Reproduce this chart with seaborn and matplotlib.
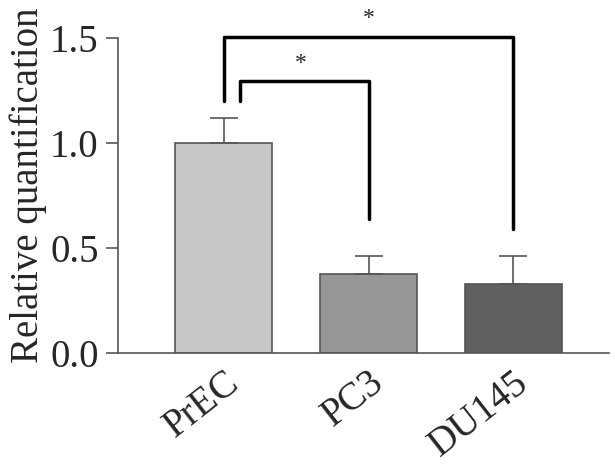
# Bar chart of relative quantification with significance brackets
import pandas as pd
import seaborn as sns
import matplotlib.pyplot as plt

groups = ['PrEC', 'PC3', 'DU145']
means = [1.0, 0.375, 0.33]
errs = [0.12, 0.087, 0.13]
colors = ['#c8c8c8', '#979797', '#606060']
yticks = [0.0, 0.5, 1.0, 1.5]

df = pd.DataFrame({'group': groups, 'value': means})

sns.set_style('ticks')
plt.rcParams['font.family'] = ['Liberation Serif', 'DejaVu Serif']

fig, ax = plt.subplots(figsize=(6.15, 4.68), dpi=100)
sns.barplot(data=df, x='group', y='value', hue='group', palette=colors,
            width=0.67, edgecolor='#555555', linewidth=1.2, errorbar=None,
            legend=False, ax=ax)

# upper error bars only
ax.errorbar(range(len(groups)), means, yerr=[[0] * len(groups), errs],
            fmt='none', ecolor='#555555', elinewidth=1.2, capsize=10, capthick=1.2)

# significance brackets
lw = 2.5
ax.plot([0.0, 0.0, 2.0, 2.0], [1.2, 1.505, 1.505, 0.59], color='black', lw=lw)
ax.plot([0.11, 0.11, 1.0, 1.0], [1.2, 1.297, 1.297, 0.64], color='black', lw=lw)
ax.text(1.0, 1.545, '*', ha='center', va='bottom', fontsize=17)
ax.text(0.53, 1.33, '*', ha='center', va='bottom', fontsize=17)

ax.set_xlim(-0.73, 2.66)
ax.set_ylim(0, 1.66)
ax.set_yticks(yticks)
ax.set_yticklabels([f'{t:.1f}' for t in yticks])
ax.set_xlabel('')
ax.set_ylabel('Relative quantification', fontsize=28)
ax.yaxis.set_label_coords(-0.145, 0.482)
ax.tick_params(axis='y', labelsize=28, length=9, width=1.2, color='#555555', pad=5)
ax.tick_params(axis='x', labelsize=28, length=0, pad=8)
plt.setp(ax.get_xticklabels(), rotation=38, ha='right', rotation_mode='anchor')
for s in ['top', 'right']:
    ax.spines[s].set_visible(False)
for s in ['left', 'bottom']:
    ax.spines[s].set_color('#555555')
    ax.spines[s].set_linewidth(1.2)
ax.spines['left'].set_bounds(0, 1.5)

plt.subplots_adjust(left=0.192, right=0.99, top=0.99, bottom=0.246)
plt.savefig('out.png', dpi=100)
